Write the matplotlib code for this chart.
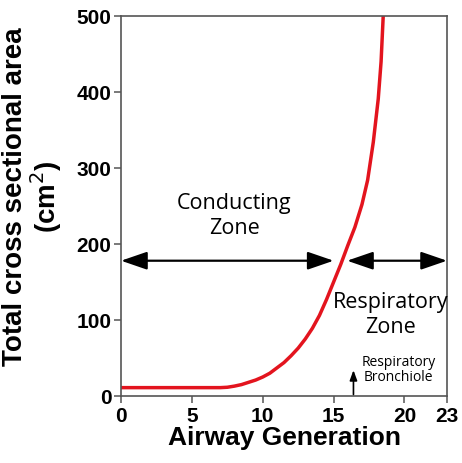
import numpy as np
import matplotlib
matplotlib.use('Agg')
import matplotlib.pyplot as plt

# airway generation vs total cross sectional area (cm^2)
generation = [0, 1, 2, 3, 4, 5, 6, 7, 7.5, 8, 8.5, 9, 9.5, 10, 10.5, 11, 11.5, 12, 12.5, 13,
              13.5, 14, 14.5, 15, 15.5, 16, 16.5, 17, 17.4, 17.8, 18.15, 18.35, 18.5]
area = [11, 11, 11, 11, 11, 11, 11, 11, 11.5, 13, 15, 18, 21, 25, 30, 37, 44, 53, 63, 75,
        89, 106, 127, 150, 173, 198, 222, 252, 284, 334, 391, 440, 500]

x_ticks = [0, 5, 10, 15, 20, 23]
y_ticks = [0, 100, 200, 300, 400, 500]

conducting_span = (0, 15)
respiratory_span = (15.95, 23)
zone_arrow_y = 178
bronchiole_gen = 16.4

fig = plt.figure(figsize=(4.62, 4.64), dpi=100)
ax = fig.add_axes([0.262, 0.1444, 0.7055, 0.819])

ax.plot(generation, area, color='#e3141e', lw=2.5, solid_capstyle='butt',
        solid_joinstyle='round', clip_on=False)

ax.set_xlim(0, 23)
ax.set_ylim(0, 500)
ax.set_xticks(x_ticks)
ax.set_yticks(y_ticks)
for lab in ax.get_xticklabels() + ax.get_yticklabels():
    lab.set_fontweight('bold')
    lab.set_fontfamily('Liberation Sans')
ax.tick_params(labelsize=15, direction='out', length=5, width=1.1, color='#555555', pad=2)
for s in ax.spines.values():
    s.set_color('#555555')
    s.set_linewidth(1.2)

ax.set_xlabel('Airway Generation', fontsize=19, fontweight='bold', family='Liberation Sans', labelpad=0)
ylab = ax.set_ylabel('Total cross sectional area\n(cm$^2$)', fontsize=20, fontweight='bold',
                     family='Liberation Sans', multialignment='center', linespacing=1.0)
ylab.set_verticalalignment('center')
ax.yaxis.set_label_coords(-0.27, 0.527)

arrow_kw = dict(arrowstyle='<|-|>,head_length=1.6,head_width=0.55', color='black', lw=1.6,
                shrinkA=0, shrinkB=0)
ax.annotate('', xy=(conducting_span[0], zone_arrow_y), xytext=(conducting_span[1], zone_arrow_y),
            arrowprops=arrow_kw, annotation_clip=False)
ax.annotate('', xy=(respiratory_span[0], zone_arrow_y), xytext=(respiratory_span[1], zone_arrow_y),
            arrowprops=arrow_kw, annotation_clip=False)

ax.text(8.0, 238, 'Conducting\nZone', ha='center', va='center', fontsize=15.5,
        family='Open Sans', linespacing=1.25)
ax.text(19.0, 108, 'Respiratory\nZone', ha='center', va='center', fontsize=15.5,
        family='Open Sans', linespacing=1.25)
ax.text(19.6, 35, 'Respiratory\nBronchiole', ha='center', va='center', fontsize=10,
        family='Open Sans', linespacing=1.0)
ax.annotate('', xy=(bronchiole_gen, 34), xytext=(bronchiole_gen, 2),
            arrowprops=dict(arrowstyle='-|>,head_length=0.6,head_width=0.22', color='black',
                            lw=1.2, shrinkA=0, shrinkB=0))

fig.savefig('out.png', dpi=100)
